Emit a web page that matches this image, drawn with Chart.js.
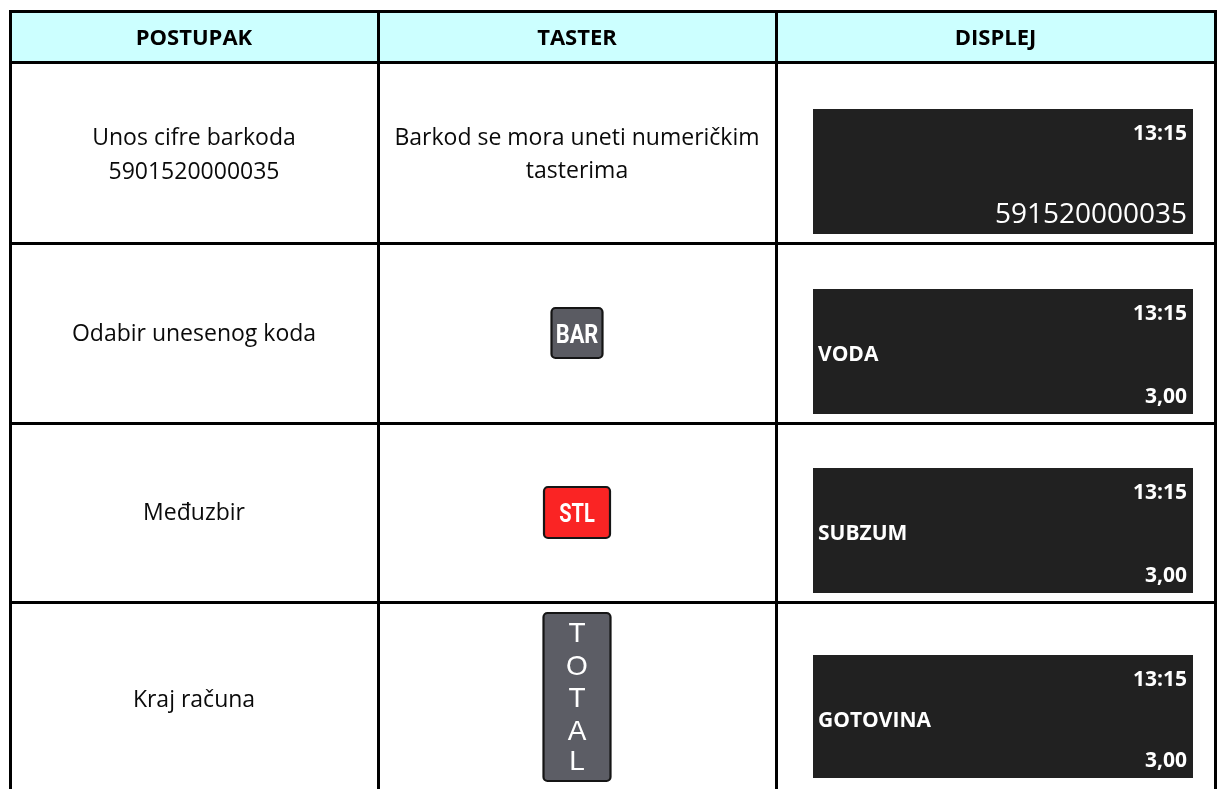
<!DOCTYPE html>
<html><head><meta charset="utf-8">
<script src="https://cdn.jsdelivr.net/npm/chart.js@4.4.1/dist/chart.umd.min.js"></script>
<style>html,body{margin:0;padding:0;background:#fff;overflow:hidden}canvas{display:block}</style>
</head><body>
<div style="width:1217px;height:789px"><canvas id="c"></canvas></div>
<script>
// ---- data ----
const headers = ['POSTUPAK', 'TASTER', 'DISPLEJ'];
const steps = [['Unos cifre barkoda', '5901520000035'], ['Odabir unesenog koda'], ['Međuzbir'], ['Kraj računa']];
const keyInstructions = [['Barkod se mora uneti numeričkim', 'tasterima'], null, null, null];
const keyLabels = [null, 'BAR', 'STL', 'TOTAL'];
const displayTime = ['13:15', '13:15', '13:15', '13:15'];
const displayItem = ['', 'VODA', 'SUBZUM', 'GOTOVINA'];
const displayValue = ['591520000035', '3,00', '3,00', '3,00'];

// ---- layout ----
const colX = [10, 378, 776, 1215];
const rowY = [11, 62, 243, 423, 602, 800];
const stepBaselines = [[145, 179], [341], [520], [707]];
const instrBaselines = [[145, 178]];
const displays = [[109, 234], [289, 414], [468, 593], [655, 778]];
const BODY = '"Open Sans", "Noto Sans", sans-serif';

const tablePlugin = {
  id: 'table',
  afterDraw(chart) {
    const ctx = chart.ctx;
    ctx.save();
    ctx.fillStyle = '#ccffff';
    ctx.fillRect(colX[0], rowY[0], colX[3] - colX[0], rowY[1] - rowY[0]);
    ctx.fillStyle = '#000';
    ctx.font = 'bold 22px ' + BODY;
    ctx.textAlign = 'center';
    ctx.textBaseline = 'alphabetic';
    headers.forEach((h, i) => ctx.fillText(h, (colX[i] + colX[i + 1]) / 2, rowY[0] + 34));
    ctx.font = '23px ' + BODY;
    ctx.fillStyle = '#0a0a0a';
    steps.forEach((lines, r) => {
      lines.forEach((t, k) => ctx.fillText(t, (colX[0] + colX[1]) / 2, stepBaselines[r][k]));
    });
    keyInstructions.forEach((lines, r) => {
      if (!lines) return;
      lines.forEach((t, k) => ctx.fillText(t, (colX[1] + colX[2]) / 2, instrBaselines[r][k]));
    });
    const cx = (colX[1] + colX[2]) / 2;
    keyLabels.forEach((k, r) => {
      if (!k) return;
      const cy = (rowY[r + 1] + rowY[r + 2]) / 2;
      let w, h, fill;
      if (k === 'TOTAL') { w = 69; h = 170; fill = '#5c5d65'; }
      else if (k === 'STL') { w = 68; h = 53; fill = '#fa2424'; }
      else { w = 53; h = 52; fill = '#5a5b62'; }
      const x0 = cx - w / 2, y0 = (k === 'TOTAL') ? 612 : cy - h / 2;
      ctx.beginPath();
      ctx.roundRect(x0 + 1, y0 + 1, w - 2, h - 2, 4);
      ctx.fillStyle = fill;
      ctx.fill();
      ctx.lineWidth = 2.2;
      ctx.strokeStyle = '#151515';
      ctx.stroke();
      ctx.fillStyle = '#fff';
      if (k === 'TOTAL') {
        ctx.font = '28px "Liberation Sans", Arial, sans-serif';
        ctx.textAlign = 'center';
        const ys = [642, 675, 707, 740, 770];
        k.split('').forEach((ch, i) => ctx.fillText(ch, cx, ys[i]));
      } else {
        ctx.save();
        ctx.translate(cx, cy + 9.5);
        ctx.scale(k === 'BAR' ? 0.84 : 0.8, 1);
        ctx.font = 'bold ' + (k === 'BAR' ? 26 : 25) + 'px Roboto, sans-serif';
        ctx.textAlign = 'center';
        ctx.fillText(k, 0, 0);
        ctx.restore();
      }
    });
    displays.forEach(([top, bot], r) => {
      ctx.fillStyle = '#212121';
      ctx.fillRect(813, top, 380, bot - top);
      ctx.fillStyle = '#fff';
      ctx.textAlign = 'right';
      ctx.font = 'bold 21px ' + BODY;
      ctx.fillText(displayTime[r], 1187, top + 31);
      if (displayItem[r]) {
        ctx.textAlign = 'left';
        ctx.fillText(displayItem[r], 818, top + 72);
      }
      ctx.textAlign = 'right';
      ctx.font = (r === 0 ? '28px ' : 'bold 21px ') + BODY;
      ctx.fillText(displayValue[r], 1187, bot - 11);
    });
    ctx.fillStyle = '#000';
    colX.forEach(x => ctx.fillRect(x - 1, rowY[0] - 1, 3, 800));
    rowY.slice(0, 5).forEach(y => ctx.fillRect(colX[0] - 1, y - 1, colX[3] - colX[0] + 3, 3));
    ctx.restore();
  }
};

new Chart(document.getElementById('c'), {
  type: 'bar',
  data: { labels: steps.map(s => s[0]), datasets: [{ data: [], label: '' }] },
  options: {
    responsive: true,
    maintainAspectRatio: false,
    animation: false,
    devicePixelRatio: 1,
    layout: { padding: 0 },
    plugins: { legend: { display: false }, tooltip: { enabled: false } },
    scales: { x: { display: false }, y: { display: false } }
  },
  plugins: [tablePlugin]
});
</script>
</body></html>
